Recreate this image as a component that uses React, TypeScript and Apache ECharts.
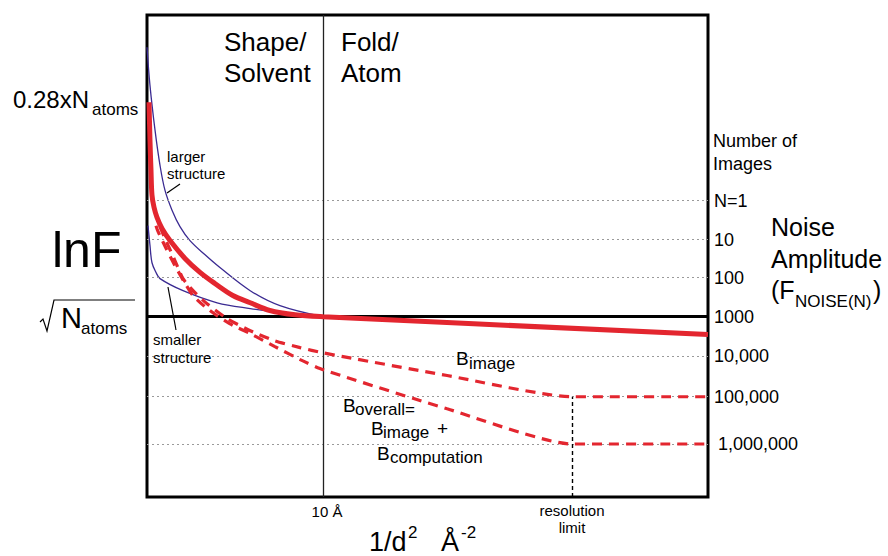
import React, { useEffect, useRef } from "react";
import * as echarts from "echarts";

// ---- schematic data (x: 1/d^2 in arbitrary units 0..100, y: lnF in arbitrary units 0..100) ----
const largerStructure: [number, number][] = [
  [0, 93.3], [0.53, 85.4], [1.43, 76.1], [2.32, 68.8], [3.21, 63.6], [4.46, 59.5],
  [5.88, 56.1], [7.66, 53.2], [10.3, 50.3], [13.0, 47.6], [18.4, 42.8], [23.7, 39.7],
  [31.4, 37.4],
];
const smallerStructure: [number, number][] = [
  [0.18, 56.3], [0.53, 52.2], [0.89, 48.6], [1.6, 46.6], [2.32, 45.3], [6.42, 42.8],
  [12.5, 40.3], [18.4, 39.1], [25.5, 38.0], [31.4, 37.4],
];
const meanStructure: [number, number][] = [
  [0.36, 81.9], [0.53, 74.0], [0.71, 67.8], [0.89, 62.6], [1.25, 60.1], [1.78, 58.0],
  [2.67, 55.7], [4.1, 53.2], [6.77, 49.5], [9.45, 46.6], [12.1, 44.3], [15.3, 41.8],
  [18.4, 40.3], [21.9, 38.7], [26.4, 37.8], [31.4, 37.4], [100, 33.7],
];
const bImage: [number, number][] = [
  [2.32, 56.1], [3.21, 53.6], [4.81, 49.5], [6.42, 45.3], [8.56, 42.4], [10.7, 40.1],
  [14.3, 37.0], [18.4, 34.5], [22.8, 32.4], [27.3, 31.0], [31.4, 29.9], [53.5, 25.2],
  [75.8, 20.8], [100, 20.8],
];
const bOverall: [number, number][] = [
  [1.6, 56.3], [1.96, 55.1], [3.39, 51.6], [4.99, 48.0], [6.6, 44.7], [8.2, 41.8],
  [10.3, 39.5], [12.5, 37.6], [15.3, 35.6], [18.4, 33.9], [22.8, 31.2], [27.3, 28.5],
  [31.4, 26.4], [53.5, 18.3], [75.8, 11.0], [100, 11.0],
];
const noiseLevels = [61.5, 53.4, 45.5, 37.4, 29.3, 20.8, 11.0];
const noiseLabels = ["N=1", "10", "100", "1000", "10,000", "100,000", "1,000,000"];
const tenAngstromX = 31.4;
const resolutionLimitX = 75.8;

const FONT = '"Liberation Sans", Arial, Helvetica, sans-serif';
const RED = "#e3262f";
const BLUE = "#3b2b92";

function txt(text: string, x: number, baseline: number, size: number, align: string = "left") {
  return {
    type: "text",
    x,
    y: baseline - 0.35 * size,
    z: 100,
    silent: true,
    style: {
      text,
      fontSize: size,
      fontFamily: FONT,
      fill: "#000",
      align,
      verticalAlign: "middle",
    },
  };
}

export default function App() {
  const ref = useRef<HTMLDivElement>(null);
  useEffect(() => {
    if (!ref.current) return;
    const chart = echarts.init(ref.current, null, { renderer: "svg" });

    const markLineData: any[] = noiseLevels.map((v, i) => ({
      yAxis: v,
      lineStyle:
        i === 3
          ? { type: "solid", color: "#000", width: 3 }
          : { type: [2, 3], color: "#9a9a9a", width: 1 },
      label: {
        show: true,
        position: "end",
        formatter: noiseLabels[i],
        distance: i === 6 ? 10 : 6,
        fontSize: 18,
        color: "#000",
        fontFamily: FONT,
      },
    }));
    markLineData.push({
      xAxis: tenAngstromX,
      lineStyle: { type: "solid", color: "#222", width: 1.3 },
      label: { show: false },
    });
    markLineData.push([
      {
        coord: [resolutionLimitX, 0],
        lineStyle: { type: [4, 3], color: "#000", width: 1.4 },
        label: { show: false },
      },
      { coord: [resolutionLimitX, noiseLevels[5]] },
    ]);

    const graphic: any[] = [
      txt("Shape/", 224, 51, 26),
      txt("Solvent", 224, 82, 26),
      txt("Fold/", 341, 51, 26),
      txt("Atom", 341, 82, 26),
      txt("0.28xN", 13, 108, 24),
      txt("atoms", 92, 115, 17),
      txt("lnF", 52, 267, 50),
      txt("N", 61, 328, 29),
      txt("atoms", 81, 334, 17),
      txt("larger", 167, 162, 15),
      txt("structure", 167, 179, 15),
      txt("smaller", 153, 345, 15),
      txt("structure", 153, 363, 15),
      txt("Number of", 713, 147, 18),
      txt("Images", 713, 170, 18),
      txt("Noise", 771, 236, 25),
      txt("Amplitude", 771, 268, 25),
      txt("(F", 771, 299, 25),
      txt("NOISE(N)", 795, 307, 17),
      txt(")", 873, 299, 25),
      txt("B", 456, 365, 19),
      txt("image", 469, 369, 17),
      txt("B", 343, 412, 19),
      txt("overall=", 355, 415, 17),
      txt("B", 371, 435, 19),
      txt("image", 383, 438, 17),
      txt("+", 437, 435, 19),
      txt("B", 377, 460, 19),
      txt("computation", 390, 463, 17),
      txt("10 Å", 327, 517, 15, "center"),
      txt("resolution", 572, 516, 15, "center"),
      txt("limit", 572, 533, 15, "center"),
      txt("1/d", 369, 551, 27),
      txt("2", 408, 538, 17),
      txt("Å", 441, 551, 27),
      txt("-2", 461, 538, 17),
      {
        type: "line",
        z: 100,
        shape: { x1: 167, y1: 193, x2: 180, y2: 184 },
        style: { stroke: "#000", lineWidth: 1.2 },
      },
      {
        type: "line",
        z: 100,
        shape: { x1: 168, y1: 287, x2: 176, y2: 330 },
        style: { stroke: "#000", lineWidth: 1.2 },
      },
      {
        type: "polyline",
        z: 100,
        shape: { points: [[40, 322], [43, 319], [47, 331], [54, 300], [135, 300]] },
        style: { stroke: "#000", lineWidth: 1.2, fill: "none" },
      },
    ];

    const option: any = {
      animation: false,
      grid: {
        left: 147,
        top: 15,
        width: 561,
        height: 482,
        show: true,
        borderColor: "#000",
        borderWidth: 3,
        backgroundColor: "transparent",
        containLabel: false,
      },
      xAxis: {
        type: "value",
        min: 0,
        max: 100,
        axisLine: { show: false },
        axisTick: { show: false },
        axisLabel: { show: false },
        splitLine: { show: false },
      },
      yAxis: {
        type: "value",
        min: 0,
        max: 100,
        axisLine: { show: false },
        axisTick: { show: false },
        axisLabel: { show: false },
        splitLine: { show: false },
      },
      series: [
        {
          name: "larger structure",
          type: "line",
          data: largerStructure,
          showSymbol: false,
          smooth: 0.35,
          lineStyle: { color: BLUE, width: 1.3 },
          z: 3,
          markLine: {
            silent: true,
            symbol: ["none", "none"],
            animation: false,
            data: markLineData,
          },
        },
        {
          name: "smaller structure",
          type: "line",
          data: smallerStructure,
          showSymbol: false,
          smooth: 0.35,
          lineStyle: { color: BLUE, width: 1.3 },
          z: 4,
        },
        {
          name: "B image",
          type: "line",
          data: bImage,
          showSymbol: false,
          smooth: 0.2,
          lineStyle: { color: RED, width: 3.2, type: [10, 7] },
          z: 5,
        },
        {
          name: "B overall",
          type: "line",
          data: bOverall,
          showSymbol: false,
          smooth: 0.2,
          lineStyle: { color: RED, width: 3.2, type: [10, 7] },
          z: 5,
        },
        {
          name: "lnF",
          type: "line",
          data: meanStructure,
          showSymbol: false,
          smooth: 0.35,
          lineStyle: { color: RED, width: 5 },
          z: 6,
        },
      ],
      graphic,
    };
    chart.setOption(option);
    return () => chart.dispose();
  }, []);
  return (
    <div
      ref={ref}
      style={{ position: "absolute", left: 0, top: 0, width: 888, height: 556, background: "#fff" }}
    />
  );
}
